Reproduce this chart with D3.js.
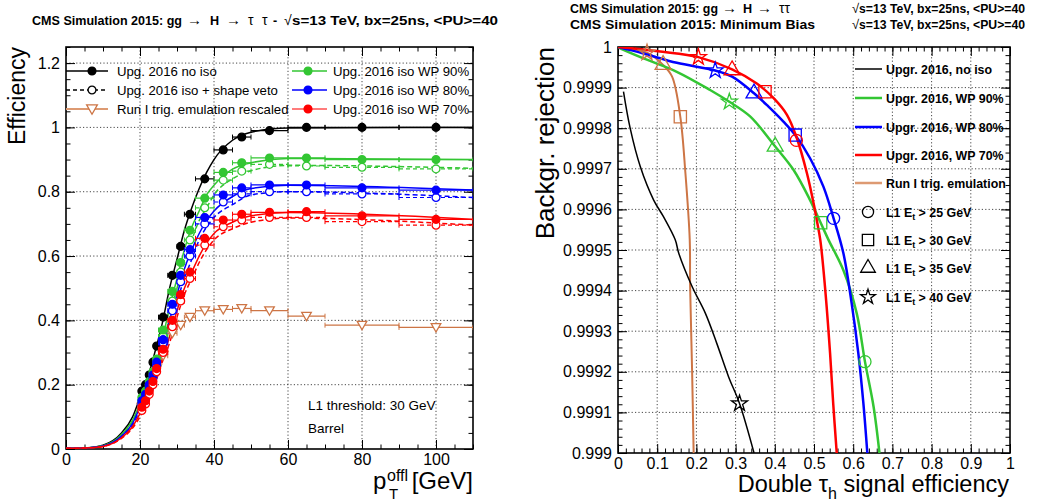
<!DOCTYPE html>
<meta charset="utf-8">
<style>
body { margin: 0; background: #fff; }
svg text { font-family: "Liberation Sans", Arial, sans-serif; }
</style>
<svg width="1038" height="504"></svg>
<script src="https://cdn.jsdelivr.net/npm/d3@7"></script>
<script>

var svg = d3.select("svg");

var green = "#33c633", blue = "#0000ff", red = "#ff0000", runIColor = "#cd7545", runILegend = "#dd9a72";

// ---------------- left panel : efficiency vs offline pT ----------------
var binEdges  = [20,21,22,23,24,25,27.5,30,32,35,40,45,50,60,70,90,110];
var effNoIso  = [0.18,0.20,0.23,0.27,0.32,0.41,0.54,0.63,0.73,0.84,0.93,0.97,0.99,1.0,1.0,1.0];
var effWP90   = [0.16,0.18,0.21,0.24,0.28,0.37,0.49,0.58,0.68,0.78,0.86,0.89,0.905,0.905,0.90,0.90];
var effWP90sv = [0.15,0.17,0.20,0.23,0.27,0.35,0.46,0.55,0.65,0.75,0.836,0.864,0.885,0.88,0.876,0.871];
var effWP80   = [0.15,0.17,0.20,0.23,0.27,0.34,0.45,0.54,0.62,0.72,0.79,0.812,0.821,0.821,0.812,0.805];
var effWP80sv = [0.14,0.16,0.19,0.22,0.26,0.33,0.43,0.52,0.60,0.70,0.768,0.793,0.80,0.80,0.793,0.782];
var effWP70   = [0.13,0.15,0.18,0.21,0.25,0.31,0.40,0.48,0.55,0.655,0.712,0.73,0.736,0.738,0.725,0.714];
var effWP70sv = [0.12,0.14,0.17,0.20,0.24,0.30,0.38,0.46,0.53,0.634,0.691,0.712,0.72,0.72,0.707,0.696];
var effRunI   = [0.13,0.15,0.18,0.22,0.25,0.29,0.36,0.385,0.41,0.43,0.434,0.437,0.43,0.413,0.385,0.378];

// fitted turn-on curves
var fitX      = [0,5,10,15,18,20,22,24,26,28,30,32,34,36,38,40,45,50,60,110];
var fitNoIso  = [0.002,0.003,0.012,0.05,0.10,0.16,0.22,0.30,0.39,0.50,0.59,0.68,0.75,0.81,0.86,0.90,0.96,0.985,0.998,1.0];
var fitWP90   = [0.002,0.003,0.010,0.045,0.09,0.14,0.19,0.25,0.34,0.44,0.53,0.62,0.69,0.74,0.79,0.82,0.87,0.89,0.903,0.90];
var fitWP90sv = [0.002,0.003,0.010,0.042,0.085,0.13,0.18,0.24,0.32,0.41,0.50,0.58,0.65,0.71,0.75,0.79,0.84,0.865,0.882,0.873];
var fitWP80   = [0.002,0.003,0.009,0.04,0.08,0.13,0.17,0.23,0.31,0.40,0.48,0.56,0.62,0.67,0.71,0.74,0.785,0.81,0.82,0.805];
var fitWP80sv = [0.002,0.003,0.009,0.038,0.075,0.12,0.16,0.22,0.30,0.38,0.46,0.53,0.59,0.65,0.69,0.72,0.76,0.79,0.80,0.782];
var fitWP70   = [0.002,0.003,0.008,0.035,0.07,0.11,0.15,0.21,0.28,0.35,0.43,0.50,0.55,0.60,0.64,0.67,0.705,0.725,0.735,0.714];
var fitWP70sv = [0.002,0.003,0.008,0.033,0.065,0.10,0.14,0.20,0.27,0.33,0.41,0.48,0.53,0.58,0.62,0.65,0.685,0.705,0.718,0.696];

var leftXTicks = [0,20,40,60,80,100];
var leftYTicks = [0,0.2,0.4,0.6,0.8,1,1.2];

// ---------------- right panel : rejection vs signal efficiency ----------------
var rocNoIsoEff = [0.014,0.031,0.057,0.091,0.116,0.146,0.155,0.189,0.223,0.252,0.282,0.310,0.347];
var rocNoIsoRej = [0.99989,0.99980,0.999705,0.999623,0.999582,0.999525,0.999492,0.99941,0.999344,0.99927,0.999188,0.999122,0.999];
var rocWP90Eff  = [0.0,0.014,0.065,0.150,0.235,0.284,0.337,0.401,0.448,0.49,0.517,0.537,0.575,0.609,0.630,0.652,0.667];
var rocWP90Rej  = [1.0,0.999993,0.999972,0.999939,0.999894,0.999865,0.999829,0.999755,0.999697,0.999623,0.999567,0.999525,0.99945,0.999344,0.999225,0.999114,0.999];
var rocWP80Eff  = [0.0,0.065,0.150,0.248,0.291,0.347,0.384,0.422,0.452,0.49,0.524,0.55,0.575,0.596,0.613,0.626,0.636];
var rocWP80Rej  = [1.0,0.999984,0.999961,0.999942,0.999927,0.999886,0.999853,0.999816,0.999783,0.999726,0.999656,0.999578,0.999492,0.999369,0.999246,0.999122,0.999];
var rocWP70Eff  = [0.0,0.065,0.150,0.205,0.291,0.354,0.397,0.431,0.455,0.482,0.500,0.507,0.516,0.528,0.541,0.549,0.558];
var rocWP70Rej  = [1.0,0.999994,0.999984,0.999975,0.999945,0.99991,0.999874,0.999833,0.999779,0.999689,0.99961,0.999574,0.999525,0.99941,0.999246,0.999122,0.999];
var rocRunIEff  = [0.0,0.074,0.115,0.138,0.159,0.172,0.183,0.184,0.189,0.193];
var rocRunIRej  = [1.0,0.999986,0.999956,0.999927,0.999828,0.999689,0.999525,0.99941,0.999204,0.999];

// working points: L1 Et > 25, 30, 35, 40 GeV
var thrShapes   = ["circle","square","triangle","star"];
var thrLabels   = ["25","30","35","40"];
var wpNoIsoEff  = [null,null,null,0.310];
var wpNoIsoRej  = [null,null,null,0.999122];
var wpWP90Eff   = [0.630,0.517,0.401,0.284];
var wpWP90Rej   = [0.999225,0.999567,0.999755,0.999865];
var wpWP80Eff   = [0.550,0.452,0.347,0.248];
var wpWP80Rej   = [0.999578,0.999783,0.999886,0.999942];
var wpWP70Eff   = [0.455,0.375,0.291,0.205];
var wpWP70Rej   = [0.99977,0.99989,0.999943,0.999975];
var wpRunIEff   = [null,0.159,0.115,0.074];
var wpRunIRej   = [null,0.999828,0.999956,0.999986];

var rightXTicks = [0,0.1,0.2,0.3,0.4,0.5,0.6,0.7,0.8,0.9,1];
var rightYTicks = d3.range(0, 11).map(function(i) { return 0.999 + i * 0.0001; });

// ---------------- helpers ----------------
var symbols = {circle: d3.symbolCircle, square: d3.symbolSquare, triangle: d3.symbolTriangle, star: d3.symbolStar};

function drawFrame(g, x, y, w, h, xTicks, xMinor, yTicks, yMinor, xFmt, yFmt) {
  // dotted grid
  g.append("g").selectAll("line").data(xTicks.filter(function(d){ return x(d) > 1 && x(d) < w - 1; }))
    .enter().append("line")
    .attr("x1", function(d){ return x(d); }).attr("x2", function(d){ return x(d); })
    .attr("y1", 0).attr("y2", h)
    .attr("stroke", "#333").attr("stroke-width", 0.9).attr("stroke-dasharray", "1.2,2.2");
  g.append("g").selectAll("line").data(yTicks.filter(function(d){ return y(d) > 1 && y(d) < h - 1; }))
    .enter().append("line")
    .attr("y1", function(d){ return y(d); }).attr("y2", function(d){ return y(d); })
    .attr("x1", 0).attr("x2", w)
    .attr("stroke", "#333").attr("stroke-width", 0.9).attr("stroke-dasharray", "1.2,2.2");

  function axis(gen, vals, size, fmt, tr, pad) {
    var a = g.append("g").attr("transform", tr)
      .call(gen.tickValues(vals).tickSizeInner(-size).tickSizeOuter(0).tickPadding(pad).tickFormat(fmt));
    a.select(".domain").remove();
    a.selectAll("line").attr("stroke", "#000").attr("stroke-width", 1);
    a.selectAll("text").attr("font-size", 16).attr("fill", "#000")
      .attr("font-family", "Liberation Sans, Arial, sans-serif");
    return a;
  }
  axis(d3.axisBottom(x), xTicks, 9, xFmt, "translate(0," + h + ")", 5);
  axis(d3.axisBottom(x), xMinor, 4.5, function(){ return ""; }, "translate(0," + h + ")", 0);
  axis(d3.axisTop(x), xTicks, 9, function(){ return ""; }, "translate(0,0)", 0);
  axis(d3.axisTop(x), xMinor, 4.5, function(){ return ""; }, "translate(0,0)", 0);
  axis(d3.axisLeft(y), yTicks, 9, yFmt, "translate(0,0)", 6);
  axis(d3.axisLeft(y), yMinor, 4.5, function(){ return ""; }, "translate(0,0)", 0);
  axis(d3.axisRight(y), yTicks, 9, function(){ return ""; }, "translate(" + w + ",0)", 0);
  axis(d3.axisRight(y), yMinor, 4.5, function(){ return ""; }, "translate(" + w + ",0)", 0);

  g.append("rect").attr("width", w).attr("height", h)
    .attr("fill", "none").attr("stroke", "#000").attr("stroke-width", 1.6);
}

function marker(g, shape, cx, cy, size, color, fill, rot) {
  g.append("path")
    .attr("d", d3.symbol().type(symbols[shape]).size(size)())
    .attr("transform", "translate(" + cx + "," + cy + ")" + (rot ? " rotate(" + rot + ")" : ""))
    .attr("fill", fill).attr("stroke", color).attr("stroke-width", 1.3);
}

// title made of pieces: plain latin runs get stretched to the measured width,
// symbols (arrows, tau, sqrt) are placed on their own
function titleLine(y, parts) {
  var g = svg.append("g").attr("font-size", 12.6).attr("font-weight", "bold");
  parts.forEach(function(p) {
    var t = g.append("text").attr("x", p[0]).attr("y", y).text(p[1]);
    if (p[2]) t.attr("textLength", p[2]).attr("lengthAdjust", "spacingAndGlyphs");
    if (p[3]) t.attr("font-weight", "normal").attr("font-size", p[3]);
  });
}

// ---------------- left panel ----------------
var L = {left: 66, top: 47, w: 407, h: 402};
var gl = svg.append("g").attr("transform", "translate(" + L.left + "," + L.top + ")");
var xl = d3.scaleLinear().domain([0, 110]).range([0, L.w]);
var yl = d3.scaleLinear().domain([0, 1.25]).range([L.h, 0]);

drawFrame(gl, xl, yl, L.w, L.h, leftXTicks, d3.range(0, 111, 5), leftYTicks, d3.range(0, 26).map(function(i){ return i * 0.05; }),
  function(d){ return d; }, function(d){ return d3.format("~g")(d); });

svg.append("clipPath").attr("id", "clipL").append("rect").attr("width", L.w).attr("height", L.h);
var plotL = gl.append("g").attr("clip-path", "url(#clipL)");

var binCenters = binEdges.slice(0, -1).map(function(e, i){ return (e + binEdges[i + 1]) / 2; });

var leftSeries = [
  {eff: effNoIso,  fit: fitNoIso,  color: "#000", open: false},
  {eff: effWP90sv, fit: fitWP90sv, color: green, open: true},
  {eff: effWP90,   fit: fitWP90,   color: green, open: false},
  {eff: effWP80sv, fit: fitWP80sv, color: blue,  open: true},
  {eff: effWP80,   fit: fitWP80,   color: blue,  open: false},
  {eff: effWP70sv, fit: fitWP70sv, color: red,   open: true},
  {eff: effWP70,   fit: fitWP70,   color: red,   open: false}
];

var fitLine = d3.line()
  .x(function(d){ return xl(d[0]); })
  .y(function(d){ return yl(d[1]); })
  .curve(d3.curveMonotoneX);

function errorBars(g, vals, color, dashed) {
  vals.forEach(function(v, i) {
    var yy = yl(v), x0 = xl(binEdges[i]), x1 = xl(binEdges[i + 1]);
    g.append("line").attr("x1", x0).attr("x2", x1).attr("y1", yy).attr("y2", yy)
      .attr("stroke", color).attr("stroke-width", 1.2).attr("stroke-dasharray", dashed ? "4,3" : null);
    [x0, x1].forEach(function(xx) {
      g.append("line").attr("x1", xx).attr("x2", xx).attr("y1", yy - 2.5).attr("y2", yy + 2.5)
        .attr("stroke", color).attr("stroke-width", 1);
    });
  });
}

leftSeries.forEach(function(s) {
  plotL.append("path")
    .datum(fitX.map(function(xv, i){ return [xv, s.fit[i]]; }))
    .attr("fill", "none").attr("stroke", s.color).attr("stroke-width", 1.5)
    .attr("stroke-dasharray", s.open ? "5,3" : null)
    .attr("d", fitLine);
});

// Run I emulation points
errorBars(plotL, effRunI, runIColor, false);
effRunI.forEach(function(v, i) {
  marker(plotL, "triangle", xl(binCenters[i]), yl(v) - 1, 40, runIColor, "#fff", 180);
});

leftSeries.forEach(function(s) {
  errorBars(plotL, s.eff, s.color, s.open);
  s.eff.forEach(function(v, i) {
    marker(plotL, "circle", xl(binCenters[i]), yl(v), 48, s.color, s.open ? "#fff" : s.color);
  });
});

// left legend
var legL = svg.append("g").attr("font-size", 13.2);
var legLeftEntries = [
  {x1: 66,  x2: 108, mx: 92,  y: 71,  color: "#000",    dash: null,  shape: "circle",   fill: "#000", text: "Upg. 2016 no iso"},
  {x1: 66,  x2: 108, mx: 92,  y: 90,  color: "#000",    dash: "4,3", shape: "circle",   fill: "#fff", text: "Upg. 2016 iso + shape veto"},
  {x1: 66,  x2: 108, mx: 92,  y: 109, color: runILegend, dash: null, shape: "triangle", fill: "#fff", text: "Run I trig. emulation rescaled", mcolor: runIColor, rot: 180},
  {x1: 292, x2: 327, mx: 308, y: 71,  color: green,     dash: null,  shape: "circle",   fill: green,  text: "Upg. 2016 iso WP 90%"},
  {x1: 292, x2: 327, mx: 308, y: 90,  color: blue,      dash: null,  shape: "circle",   fill: blue,   text: "Upg. 2016 iso WP 80%"},
  {x1: 292, x2: 327, mx: 308, y: 109, color: "#ff5050", dash: null,  shape: "circle",   fill: red,    text: "Upg. 2016 iso WP 70%", mcolor: red}
];
legLeftEntries.forEach(function(e) {
  legL.append("line").attr("x1", e.x1).attr("x2", e.x2).attr("y1", e.y).attr("y2", e.y)
    .attr("stroke", e.color).attr("stroke-width", e.color === runILegend ? 2 : 1.3)
    .attr("stroke-dasharray", e.dash);
  marker(legL, e.shape, e.mx, e.y - (e.rot ? 1 : 0), e.shape === "triangle" ? 50 : 48, e.mcolor || e.color, e.fill === "#fff" ? "#fff" : (e.mcolor || e.fill), e.rot);
  legL.append("text").attr("x", e.x2 === 108 ? 117 : 333).attr("y", e.y + 5).text(e.text);
});

svg.append("text").attr("x", 308).attr("y", 410).attr("font-size", 13.5).text("L1 threshold: 30 GeV");
svg.append("text").attr("x", 308).attr("y", 433).attr("font-size", 13.5).text("Barrel");

// left titles
titleLine(25, [
  [32, "CMS Simulation 2015: gg", 150], [187, "\u2192", 0, 15], [210, "H"], [226, "\u2192", 0, 15],
  [248, "\u03c4", 0, 14], [262, "\u03c4", 0, 14], [273, "-"], [284, "\u221a", 0, 14], [292, "s=13 TeV, bx=25ns, <PU>=40", 206]
]);
svg.append("text").attr("transform", "translate(25,47) rotate(-90)").attr("text-anchor", "end")
  .attr("font-size", 23).text("Efficiency");
svg.append("text").attr("x", 373).attr("y", 489).attr("font-size", 24).text("p");
svg.append("text").attr("x", 387).attr("y", 481).attr("font-size", 16).text("offl");
svg.append("text").attr("x", 389).attr("y", 499).attr("font-size", 15).text("T");
svg.append("text").attr("x", 473).attr("y", 489).attr("text-anchor", "end").attr("font-size", 24).text("[GeV]");

// ---------------- right panel ----------------
var R = {left: 618, top: 47, w: 392, h: 406};
var gr = svg.append("g").attr("transform", "translate(" + R.left + "," + R.top + ")");
var xr = d3.scaleLinear().domain([0, 1]).range([0, R.w]);
var yr = d3.scaleLinear().domain([0.999, 1]).range([R.h, 0]);

drawFrame(gr, xr, yr, R.w, R.h, rightXTicks, d3.range(0, 51).map(function(i){ return i * 0.02; }),
  rightYTicks, d3.range(0, 51).map(function(i){ return 0.999 + i * 0.00002; }),
  function(d){ return d3.format("~g")(d); }, function(d){ return d3.format(".4~f")(d); });

svg.append("clipPath").attr("id", "clipR").append("rect").attr("width", R.w).attr("height", R.h);
var plotR = gr.append("g").attr("clip-path", "url(#clipR)");

var rocLine = d3.line()
  .x(function(d){ return xr(d[0]); })
  .y(function(d){ return yr(d[1]); })
  .curve(d3.curveCatmullRom.alpha(0.5));

var rightSeries = [
  {eff: rocRunIEff,  rej: rocRunIRej,  wpEff: wpRunIEff,  wpRej: wpRunIRej,  color: runIColor, width: 2},
  {eff: rocNoIsoEff, rej: rocNoIsoRej, wpEff: wpNoIsoEff, wpRej: wpNoIsoRej, color: "#000",    width: 1.5},
  {eff: rocWP90Eff,  rej: rocWP90Rej,  wpEff: wpWP90Eff,  wpRej: wpWP90Rej,  color: green,     width: 2.5},
  {eff: rocWP80Eff,  rej: rocWP80Rej,  wpEff: wpWP80Eff,  wpRej: wpWP80Rej,  color: blue,      width: 2.5},
  {eff: rocWP70Eff,  rej: rocWP70Rej,  wpEff: wpWP70Eff,  wpRej: wpWP70Rej,  color: red,       width: 2.5}
];
var markerSize = {circle: 115, square: 150, triangle: 110, star: 80};

rightSeries.forEach(function(s) {
  plotR.append("path")
    .datum(s.eff.map(function(e, i){ return [e, s.rej[i]]; }))
    .attr("fill", "none").attr("stroke", s.color).attr("stroke-width", s.width)
    .attr("d", rocLine);
});
rightSeries.forEach(function(s) {
  s.wpEff.forEach(function(e, i) {
    if (e === null) return;
    marker(gr, thrShapes[i], xr(e), yr(s.wpRej[i]), markerSize[thrShapes[i]], s.color, "none");
  });
});

// right legend
var legR = svg.append("g").attr("font-size", 12.4).attr("font-weight", "bold");
var legRightLines = [
  {color: "#000",     width: 1.5, text: "Upgr. 2016, no iso",    y: 69},
  {color: green,      width: 2.5, text: "Upgr. 2016, WP 90%",    y: 98},
  {color: blue,       width: 2.5, text: "Upgr. 2016, WP 80%",    y: 127},
  {color: red,        width: 2.5, text: "Upgr. 2016, WP 70%",    y: 155},
  {color: runILegend, width: 2.5, text: "Run I trig. emulation", y: 183}
];
legRightLines.forEach(function(e) {
  legR.append("line").attr("x1", 855).attr("x2", 882).attr("y1", e.y).attr("y2", e.y)
    .attr("stroke", e.color).attr("stroke-width", e.width);
  legR.append("text").attr("x", 886).attr("y", e.y + 4.5).text(e.text);
});
var legMarkerY = [212, 240, 268, 297];
thrShapes.forEach(function(shape, i) {
  marker(legR, shape, 868, legMarkerY[i], markerSize[shape] * 0.85, "#000", "none");
  var t = legR.append("text").attr("x", 886).attr("y", legMarkerY[i] + 4.5);
  t.append("tspan").text("L1 E");
  t.append("tspan").attr("font-size", 9).attr("dy", 3).text("t");
  t.append("tspan").attr("dy", -3).text(" > " + thrLabels[i] + " GeV");
});

// right titles
titleLine(13, [
  [570, "CMS Simulation 2015: gg", 148], [722, "\u2192", 0, 15], [743, "H"], [757, "\u2192", 0, 15],
  [779, "\u03c4\u03c4", 0, 14], [852, "\u221a", 0, 13], [859, "s=13 TeV, bx=25ns, <PU>=40", 166]
]);
titleLine(29, [
  [570, "CMS Simulation 2015: Minimum Bias", 245], [852, "\u221a", 0, 13], [859, "s=13 TeV, bx=25ns, <PU>=40", 166]
]);

svg.append("text").attr("transform", "translate(554,47) rotate(-90)").attr("text-anchor", "end")
  .attr("font-size", 26).text("Backgr. rejection");
var xt = svg.append("text").attr("x", 1009).attr("y", 492).attr("text-anchor", "end").attr("font-size", 23.5);
xt.append("tspan").text("Double \u03c4");
xt.append("tspan").attr("font-size", 16).attr("dy", 7).text("h");
xt.append("tspan").attr("dy", -7).text(" signal efficiency");

</script>
